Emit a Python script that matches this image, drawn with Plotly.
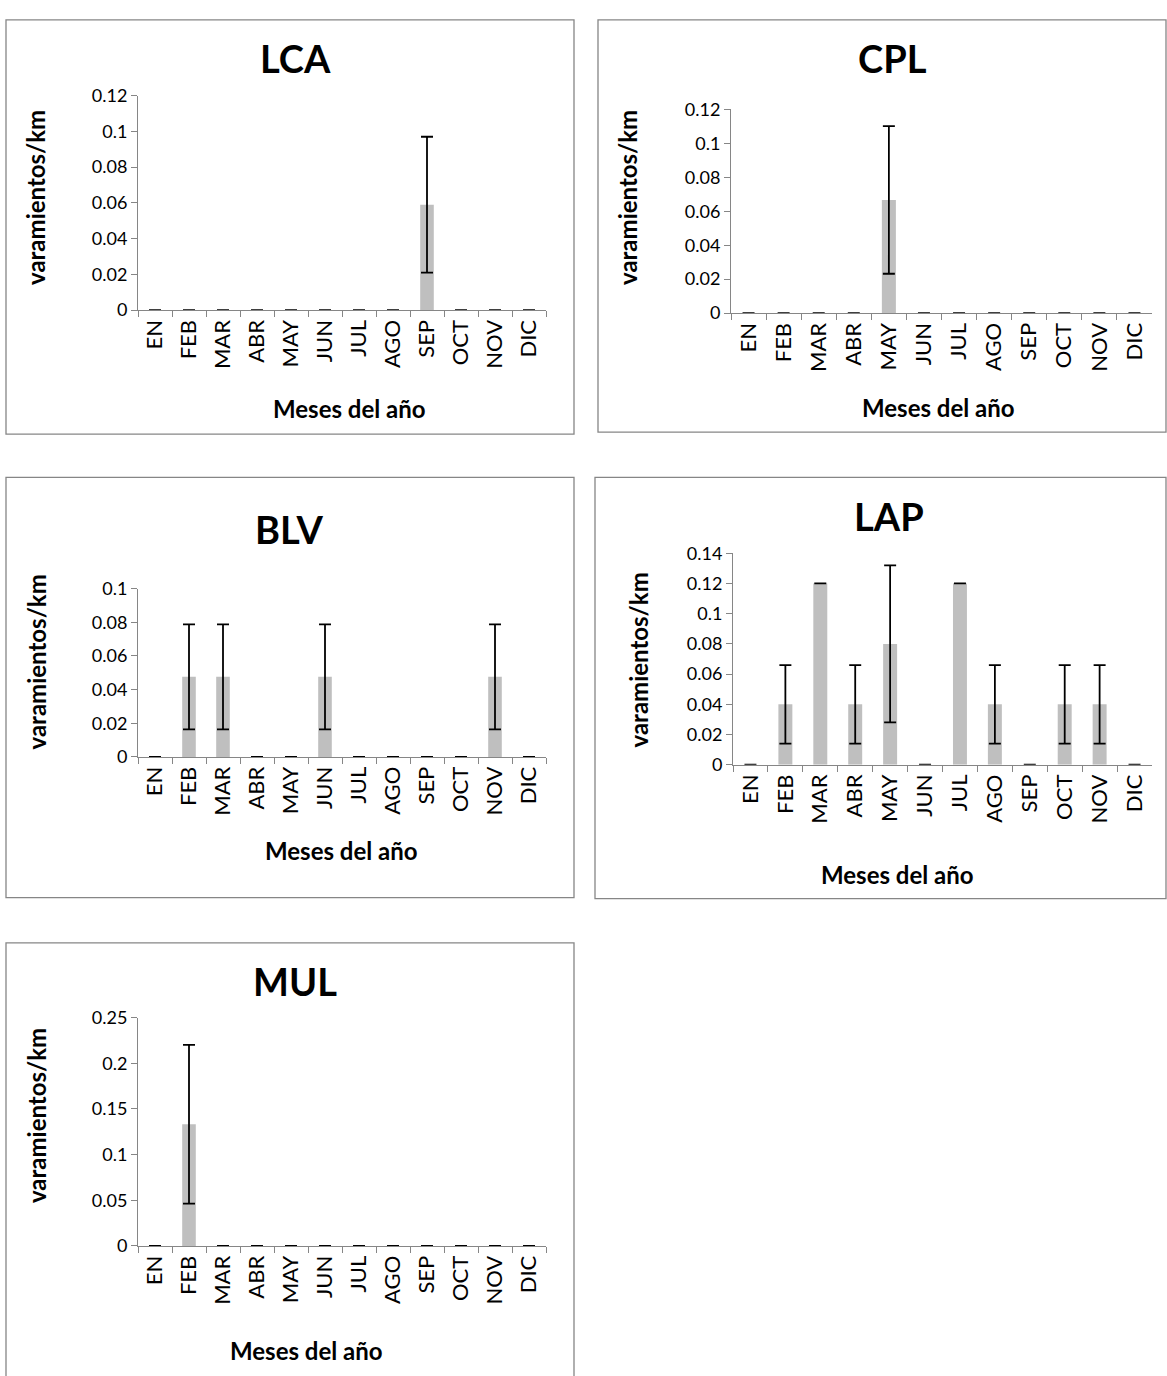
import plotly.graph_objects as go

months = ["EN", "FEB", "MAR", "ABR", "MAY", "JUN", "JUL", "AGO", "SEP", "OCT", "NOV", "DIC"]

lca_vals = [0, 0, 0, 0, 0, 0, 0, 0, 0.059, 0, 0, 0]
lca_err = [0, 0, 0, 0, 0, 0, 0, 0, 0.038, 0, 0, 0]

cpl_vals = [0, 0, 0, 0, 0.0667, 0, 0, 0, 0, 0, 0, 0]
cpl_err = [0, 0, 0, 0, 0.0435, 0, 0, 0, 0, 0, 0, 0]

blv_vals = [0, 0.0476, 0.0476, 0, 0, 0.0476, 0, 0, 0, 0, 0.0476, 0]
blv_err = [0, 0.0312, 0.0312, 0, 0, 0.0312, 0, 0, 0, 0, 0.0312, 0]

lap_vals = [0, 0.04, 0.12, 0.04, 0.08, 0, 0.12, 0.04, 0, 0.04, 0.04, 0]
lap_err = [0, 0.026, 0, 0.026, 0.052, 0, 0, 0.026, 0, 0.026, 0.026, 0]

mul_vals = [0, 0.1333, 0, 0, 0, 0, 0, 0, 0, 0, 0, 0]
mul_err = [0, 0.087, 0, 0, 0, 0, 0, 0, 0, 0, 0, 0]

W, H = 1167, 1376
FONT = "Lato"
AXIS_COLOR = "#868686"
BAR_COLOR = "#BFBFBF"


def px(x):
    return x / W


def py(y):
    return 1 - y / H


panels = [
    dict(name="LCA", v=lca_vals, e=lca_err, area=(138, 546, 85, 303), yr=0.12, dt=0.02,
         box=(6, 8, 574, 429), title=(295, 47), ytl=(36, 189), xtl=(349, 403)),
    dict(name="CPL", v=cpl_vals, e=cpl_err, area=(731, 1152, 99, 306), yr=0.12, dt=0.02,
         box=(598, 8, 1166, 427), title=(892, 47), ytl=(628, 189), xtl=(938, 402)),
    dict(name="BLV", v=blv_vals, e=blv_err, area=(138, 546, 586, 757), yr=0.1, dt=0.02,
         box=(6, 473, 574, 900), title=(289, 525), ytl=(36, 661), xtl=(341, 852)),
    dict(name="LAP", v=lap_vals, e=lap_err, area=(733, 1152, 550, 765), yr=0.14, dt=0.02,
         box=(595, 473, 1166, 901), title=(889, 512), ytl=(638, 659), xtl=(897, 877)),
    dict(name="MUL", v=mul_vals, e=mul_err, area=(138, 546, 1022, 1254), yr=0.25, dt=0.05,
         box=(6, 946, 574, 1400), title=(295, 985), ytl=(36, 1122), xtl=(306, 1360)),
]

fig = go.Figure()
shapes = []
annotations = []

for i, p in enumerate(panels):
    n = "" if i == 0 else str(i + 1)
    xa, ya = "x" + n, "y" + n
    fig.add_trace(go.Bar(
        x=months, y=p["v"], xaxis=xa, yaxis=ya,
        marker=dict(color=BAR_COLOR, line=dict(width=0)),
        error_y=dict(type="data", array=p["e"], visible=True, color="black",
                     thickness=1.8, width=6),
        showlegend=False,
    ))
    x0, x1, yt, yb = p["area"]
    fig.layout["xaxis" + n] = dict(
        domain=[px(x0), px(x1)], anchor=ya, type="category",
        showline=True, linecolor=AXIS_COLOR, linewidth=1,
        ticks="outside", tickson="boundaries", ticklen=6, tickcolor=AXIS_COLOR,
        tickangle=-90, tickfont=dict(family=FONT, size=22, color="black"),
        showgrid=False, zeroline=False, fixedrange=True,
    )
    tv = []
    k = 0
    while k * p["dt"] <= p["yr"] + 1e-9:
        tv.append(round(k * p["dt"], 4))
        k += 1
    fig.layout["yaxis" + n] = dict(
        domain=[py(yb), py(yt)], anchor=xa, range=[0, p["yr"]],
        tickvals=tv, ticktext=[("%g" % t) for t in tv],
        showline=True, linecolor=AXIS_COLOR, linewidth=1,
        ticks="outside", ticklen=6, tickcolor=AXIS_COLOR,
        tickfont=dict(family=FONT, size=18, color="black"),
        showgrid=False, zeroline=False, fixedrange=True,
    )
    bx0, by0, bx1, by1 = p["box"]
    shapes.append(dict(type="rect", xref="paper", yref="paper",
                       x0=px(bx0), x1=px(bx1), y0=py(by1), y1=py(by0),
                       line=dict(color=AXIS_COLOR, width=1.3)))
    annotations.append(dict(text="<b>%s</b>" % p["name"], xref="paper", yref="paper",
                            x=px(p["title"][0]), y=py(p["title"][1]),
                            xanchor="center", yanchor="middle", showarrow=False,
                            font=dict(family=FONT, size=38, color="black")))
    annotations.append(dict(text="<b>varamientos/km</b>", xref="paper", yref="paper",
                            x=px(p["ytl"][0]), y=py(p["ytl"][1]), textangle=-90,
                            xanchor="center", yanchor="middle", showarrow=False,
                            font=dict(family=FONT, size=24, color="black")))
    annotations.append(dict(text="<b>Meses del año</b>", xref="paper", yref="paper",
                            x=px(p["xtl"][0]), y=py(p["xtl"][1]),
                            xanchor="center", yanchor="middle", showarrow=False,
                            font=dict(family=FONT, size=24, color="black")))

fig.update_layout(
    width=W, height=H, margin=dict(l=0, r=0, t=0, b=0),
    paper_bgcolor="white", plot_bgcolor="white",
    bargap=0.6, shapes=shapes, annotations=annotations,
)

fig.write_html("out.html")
